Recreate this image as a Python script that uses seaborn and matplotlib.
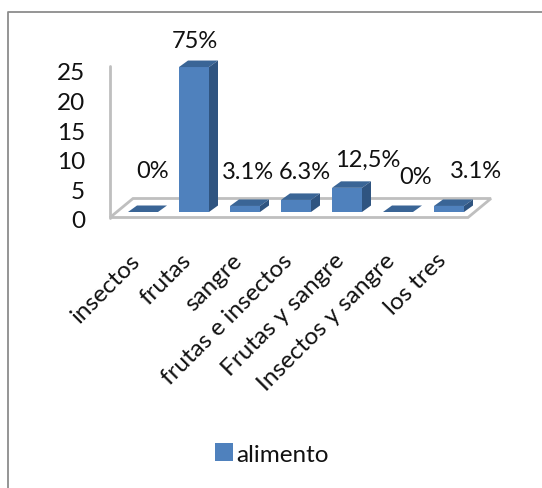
import pandas as pd
import seaborn as sns
import matplotlib.pyplot as plt
from matplotlib.patches import Polygon
from matplotlib.transforms import ScaledTranslation

# Data
categories = ['insectos', 'frutas', 'sangre', 'frutas e insectos',
              'Frutas y sangre', 'Insectos y sangre', 'los tres']
values = [0, 24, 1, 2, 4, 0, 1]
value_labels = ['0%', '75%', '3.1%', '6.3%', '12,5%', '0%', '3.1%']
y_ticks = [0, 5, 10, 15, 20, 25]
series_name = 'alimento'

# Label offsets from the front top of each bar, in pixels
label_offsets = [(10, 42), (1, 27), (3, 34), (9, 28), (21, 28), (18, 35), (27, 35)]

FRONT = '#4F81BD'
TOP = '#3A6596'
SIDE = '#2F5480'
GREY = '#BFBFBF'
W, H = 542, 489

df = pd.DataFrame({'cat': categories, 'val': values, 'serie': series_name})

sns.set_theme(style='white')
plt.rcParams['font.family'] = ['Lato', 'DejaVu Sans']


def fig_xy(x, y):
    return x / W, 1 - y / H


fig = plt.figure(figsize=(W / 100, H / 100), dpi=100)
pos = [110 / W, 1 - 225 / H, 381 / W, 175 / H]

# Back layer: wall, floor and the value axis
ax_wall = fig.add_axes(pos)
ax_wall.set_xlim(0, 1)
ax_wall.set_ylim((220 - 225) / 5.92, (220 - 50) / 5.92)
ax_wall.set_yticks(y_ticks)
ax_wall.set_xticks([])
ax_wall.tick_params(axis='y', length=0, labelsize=17.5, pad=18, colors='#111111')
sns.despine(ax=ax_wall, left=True, bottom=True)

floor = [fig_xy(110, 218.5), fig_xy(468, 218.5), fig_xy(491, 199.5), fig_xy(133, 199.5)]
ax_wall.add_patch(Polygon(floor, closed=True, facecolor='white', edgecolor=GREY, lw=2,
                          transform=fig.transFigure, clip_on=False))
ax_wall.plot(*zip(fig_xy(110, 67), fig_xy(110, 219)), color=GREY, lw=2,
             transform=fig.transFigure, clip_on=False)

# Chart frame, only the top and left edges show
frame_x, frame_y = zip(fig_xy(W, 12.5), fig_xy(7.5, 12.5), fig_xy(7.5, H))
fig.add_artist(plt.Line2D(frame_x, frame_y, color='#8C8C8C', lw=1.3))

# Bars
ax = fig.add_axes(pos, facecolor='none')
sns.barplot(data=df, x='cat', y='val', hue='serie', palette=[FRONT], width=30 / 51,
            ax=ax, legend=False, saturation=1, linewidth=0)
ax.set_xlim((110 - 143) / 51, (491 - 143) / 51)
ax.set_ylim((213 - 225) / 6.04, (213 - 50) / 6.04)
ax.set_xlabel('')
ax.set_ylabel('')
ax.set_yticks([])
sns.despine(ax=ax, left=True, bottom=True)

# Depth faces built from the bars
dx, dy = 9 / 51, 6.5 / 6.04
bars = list(ax.patches)
for bar in bars:
    x0, w, h = bar.get_x(), bar.get_width(), bar.get_height()
    x1 = x0 + w
    ax.add_patch(Polygon([(x0, h), (x1, h), (x1 + dx, h + dy), (x0 + dx, h + dy)],
                         facecolor=TOP, edgecolor='none', clip_on=False))
    ax.add_patch(Polygon([(x1, 0), (x1 + dx, dy), (x1 + dx, h + dy), (x1, h)],
                         facecolor=SIDE, edgecolor='none', clip_on=False))

# Value labels
for i, (v, label) in enumerate(zip(values, value_labels)):
    ax.annotate(label, xy=(i, v), xytext=label_offsets[i], textcoords='offset pixels',
                ha='center', va='center', fontsize=17, color='#111111', annotation_clip=False)

# Category labels
ax.tick_params(axis='x', length=0, pad=18, colors='#111111')
ax.set_xticks(range(len(categories)))
ax.set_xticklabels(categories, rotation=45, ha='right', va='top',
                   rotation_mode='anchor', fontsize=17.5)
shift = ScaledTranslation(-14 / 100, 0, fig.dpi_scale_trans)
for tick_label in ax.get_xticklabels():
    tick_label.set_transform(tick_label.get_transform() + shift)

# Legend
handle = plt.Rectangle((0, 0), 1, 1, facecolor=FRONT, edgecolor='none')
fig.legend([handle], [series_name], loc='center', bbox_to_anchor=fig_xy(272, 455),
           frameon=False, fontsize=17.5, handlelength=0.75, handleheight=0.75,
           handletextpad=0.15, labelcolor='#111111')

fig.savefig('out.png', dpi=100, facecolor='white')
